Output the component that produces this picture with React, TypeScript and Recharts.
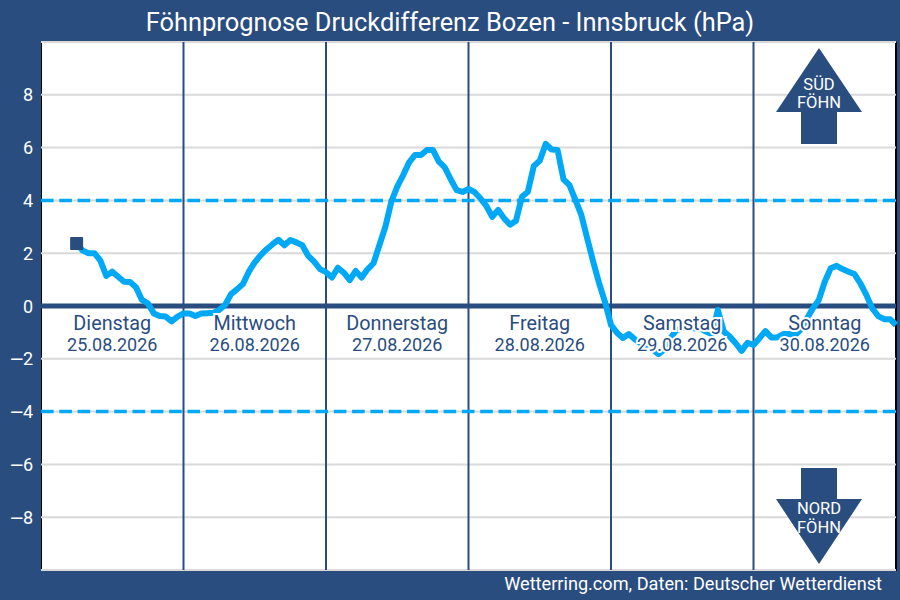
import React from 'react';
import { ComposedChart, Line, XAxis, YAxis, CartesianGrid, ReferenceLine, ReferenceDot } from 'recharts';

const NAVY = '#2a4d80';
const SKY = '#00a8f5';

// hours since Tuesday 00:00
const hours = [
  6, 7, 8, 9, 10, 11, 12, 13, 14, 15, 16, 17, 18, 19, 20, 21, 22, 23, 24, 25, 26, 27, 28, 29, 30,
  31, 32, 33, 34, 35, 36, 37, 38, 39, 40, 41, 42, 43, 44, 45, 46, 47, 48, 49, 50, 51, 52, 53, 54,
  55, 56, 57, 58, 59, 60, 61, 62, 63, 64, 65, 66, 67, 68, 69, 70, 71, 72, 73, 74, 75, 76, 77, 78,
  79, 80, 81, 82, 83, 84, 85, 86, 87, 88, 89, 90, 91, 92, 93, 94, 95, 96, 97, 98, 99, 100, 101,
  102, 103, 104, 105, 106, 107, 108, 109, 110, 111, 112, 113, 114, 115, 116, 117, 118, 119, 120,
  121, 122, 123, 124, 125, 126, 127, 128, 129, 130, 131, 132, 133, 134, 135, 136, 137, 138, 139,
  140, 141, 142, 143, 144,
];

const pressureDiff = [
  2.37, 2.1, 2.0, 2.0, 1.72, 1.14, 1.3, 1.11, 0.92, 0.91, 0.71, 0.23, 0.1, -0.28, -0.38, -0.4,
  -0.58, -0.4, -0.28, -0.28, -0.38, -0.28, -0.27, -0.26, -0.15, 0.04, 0.45, 0.63, 0.83, 1.3, 1.65,
  1.93, 2.15, 2.34, 2.51, 2.3, 2.5, 2.41, 2.3, 1.9, 1.68, 1.4, 1.28, 1.08, 1.45, 1.26, 0.98, 1.33,
  1.08, 1.39, 1.62, 2.31, 3.0, 3.95, 4.52, 4.96, 5.44, 5.72, 5.72, 5.91, 5.91, 5.47, 5.25, 4.8,
  4.39, 4.32, 4.43, 4.32, 4.08, 3.79, 3.38, 3.64, 3.32, 3.08, 3.23, 4.14, 4.33, 5.3, 5.5, 6.14,
  5.93, 5.91, 4.8, 4.58, 4.02, 3.45, 2.56, 1.68, 0.86, 0.15, -0.72, -1.01, -1.21, -1.06, -1.26,
  -1.41, -1.54, -1.64, -1.82, -1.64, -1.22, -0.91, -0.85, -0.8, -0.85, -0.83, -0.97, -1.07, -0.15,
  -0.97, -1.16, -1.41, -1.7, -1.39, -1.48, -1.22, -0.95, -1.19, -1.19, -1.06, -1.06, -1.1, -0.88,
  -0.47, -0.09, 0.23, 0.92, 1.43, 1.52, 1.4, 1.3, 1.21, 0.86, 0.42, -0.09, -0.38, -0.5, -0.5, -0.72,
];

const dayNames = ['Dienstag', 'Mittwoch', 'Donnerstag', 'Freitag', 'Samstag', 'Sonntag'];
const dayDates = ['25.08.2026', '26.08.2026', '27.08.2026', '28.08.2026', '29.08.2026', '30.08.2026'];
const dayMiddles = [12, 36, 60, 84, 108, 132];
const dayBreaks = [24, 48, 72, 96, 120];
const yTicks = [-8, -6, -4, -2, 0, 2, 4, 6, 8];
const foehnLimits = [4, -4];

const chartData = hours.map((hour, i) => ({ hour, diff: pressureDiff[i] }));

function StartDot(props: any) {
  if (props.index !== 0) return null;
  return <rect x={props.cx - 6.5} y={props.cy - 6.5} width={13} height={13} fill={NAVY} rx={1} />;
}

function DayLabel({ cx, cy, name, date }: any) {
  const style = { paintOrder: 'stroke', stroke: '#fff', strokeWidth: 4 } as React.CSSProperties;
  return (
    <g fontFamily="Roboto" fill={NAVY} textAnchor="middle">
      <text x={cx} y={cy} fontSize={19.8} style={style}>{name}</text>
      <text x={cx} y={cy + 21} fontSize={18} style={style}>{date}</text>
    </g>
  );
}

// the minus in the reference is much longer than Roboto's own
function YTick({ x, y, payload }: any) {
  const v = payload.value;
  return (
    <text x={x} y={y} dy={6.5} textAnchor="end" fill="#fff" fontSize={18} fontFamily="Roboto">
      {v < 0 && <tspan fontFamily="DejaVu Sans">{'\u2212'}</tspan>}
      <tspan dx={v < 0 ? -1.5 : 0}>{Math.abs(v)}</tspan>
    </text>
  );
}

function Arrows() {
  const text = { fontFamily: 'Roboto', fontSize: 16.5, fill: '#fff', textAnchor: 'middle' as const };
  return (
    <svg width={900} height={600} style={{ position: 'absolute', left: 0, top: 0 }}>
      <polygon points="819,48 862,112 837,112 837,144 801,144 801,112 776,112" fill={NAVY} />
      <text x={819} y={90} {...text}>SÜD</text>
      <text x={819} y={108} {...text}>FÖHN</text>
      <polygon points="819,564 862,499 837,499 837,468 801,468 801,499 776,499" fill={NAVY} />
      <text x={819} y={514} {...text}>NORD</text>
      <text x={819} y={533} {...text}>FÖHN</text>
    </svg>
  );
}

export default function App() {
  return (
    <div style={{ position: 'absolute', left: 0, top: 0, width: 900, height: 600, background: NAVY, fontFamily: 'Roboto', overflow: 'hidden' }}>
      <div style={{ position: 'absolute', left: 41, top: 42, width: 853, height: 526, background: '#fff', border: '1px solid #000', borderRightWidth: 2, borderBottomWidth: 2 }} />
      <div style={{ position: 'absolute', left: 0, top: 5, width: 900, textAlign: 'center', color: '#fff', fontSize: 25.4, lineHeight: '34px' }}>
        Föhnprognose Druckdifferenz Bozen - Innsbruck (hPa)
      </div>
      <div style={{ position: 'absolute', right: 18, top: 573, color: '#fff', fontSize: 18.15, lineHeight: '22px' }}>
        Wetterring.com, Daten: Deutscher Wetterdienst
      </div>
      <div style={{ position: 'absolute', left: 0, top: 0 }}>
        <ComposedChart width={900} height={600} data={chartData} margin={{ top: 42, right: 4, bottom: 30, left: 0 }}>
          <CartesianGrid horizontal vertical={false} stroke="#d9d9d9" strokeWidth={2} />
          <XAxis dataKey="hour" type="number" domain={[0, 144]} hide />
          <YAxis
            width={41}
            domain={[-10, 10]}
            ticks={yTicks}
            interval={0}
            axisLine={false}
            tickLine={false}
            tick={<YTick />}
          />
          {dayBreaks.map((h) => (
            <ReferenceLine key={h} x={h} stroke={NAVY} strokeWidth={2} />
          ))}
          <ReferenceLine y={0} stroke={NAVY} strokeWidth={5} />
          {foehnLimits.map((v) => (
            <ReferenceLine key={v} y={v} stroke={SKY} strokeWidth={3.5} strokeDasharray="12.6 5.7" />
          ))}
          <Line
            type="linear"
            dataKey="diff"
            stroke={SKY}
            strokeWidth={6}
            strokeLinejoin="round"
            dot={<StartDot />}
            activeDot={false}
            isAnimationActive={false}
          />
          {dayMiddles.map((h, i) => (
            <ReferenceDot
              key={h}
              x={h}
              y={-0.9}
              shape={(p: any) => <DayLabel cx={p.cx} cy={p.cy} name={dayNames[i]} date={dayDates[i]} />}
            />
          ))}
        </ComposedChart>
      </div>
      <Arrows />
    </div>
  );
}
